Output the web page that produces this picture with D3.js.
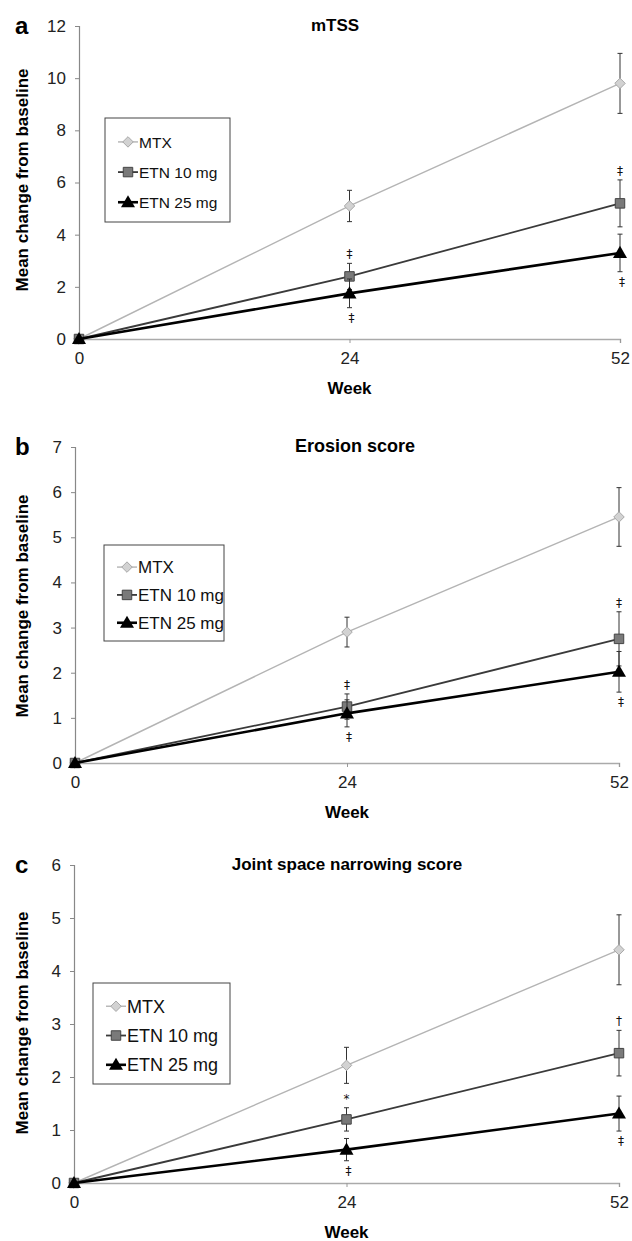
<!DOCTYPE html>
<html>
<head>
  <meta charset="UTF-8">
  <title>Radiographic progression by treatment group</title>
  <script src="https://d3js.org/d3.v7.min.js"></script>
  <style>
    body { margin: 0; background: #fff; }
    svg text { font-family: "Liberation Sans", Arial, sans-serif; }
  </style>
</head>
<body>
<div id="chart"></div>
<script>
// ---- data ----
const weeks = ["0", "24", "52"];
const groups = ["MTX", "ETN 10 mg", "ETN 25 mg"];

// panel a: mTSS  (rows: MTX, ETN 10 mg, ETN 25 mg)
const mtssMeans  = [[0, 5.1, 9.8], [0, 2.4, 5.2], [0, 1.75, 3.3]];
const mtssErrors = [[0, 0.6, 1.15], [0, 0.5, 0.9], [0, 0.55, 0.72]];
const mtssMarks  = [["", "", ""], ["", "‡", "‡"], ["", "‡", "‡"]];

// panel b: erosion score
const erosionMeans  = [[0, 2.9, 5.45], [0, 1.25, 2.75], [0, 1.1, 2.02]];
const erosionErrors = [[0, 0.33, 0.65], [0, 0.28, 0.6], [0, 0.3, 0.45]];
const erosionMarks  = [["", "", ""], ["", "‡", "‡"], ["", "‡", "‡"]];

// panel c: joint space narrowing score
const jsnMeans  = [[0, 2.22, 4.4], [0, 1.2, 2.45], [0, 0.63, 1.31]];
const jsnErrors = [[0, 0.34, 0.66], [0, 0.22, 0.43], [0, 0.21, 0.33]];
const jsnMarks  = [["", "", ""], ["", "*", "†"], ["", "‡", "‡"]];

// ---- layout ----
const W = 632, H = 1241;
const panels = [
  { letter: "a", title: "mTSS", yMax: 12, yStep: 2,
    means: mtssMeans, errs: mtssErrors, marks: mtssMarks,
    x0: 79, x1: 620, yTop: 26, yBot: 339, titleX: 335, titleSize: 17,
    labelY: 180, legend: { x: 105, y: 118, w: 125, h: 104, fs: 15.5 } },
  { letter: "b", title: "Erosion score", yMax: 7, yStep: 1,
    means: erosionMeans, errs: erosionErrors, marks: erosionMarks,
    x0: 75, x1: 619, yTop: 447, yBot: 763, titleX: 355, titleSize: 18,
    labelY: 606, legend: { x: 104, y: 545, w: 120, h: 96, fs: 17 } },
  { letter: "c", title: "Joint space narrowing score", yMax: 6, yStep: 1,
    means: jsnMeans, errs: jsnErrors, marks: jsnMarks,
    x0: 74, x1: 619, yTop: 865, yBot: 1183, titleX: 347, titleSize: 17,
    labelY: 1023, legend: { x: 93, y: 983, w: 137, h: 101, fs: 18 } }
];

const lineColor = ["#b4b4b4", "#3a3a3a", "#000"];
const lineWidth = [1.4, 1.8, 2.6];

const svg = d3.select("#chart").append("svg")
  .attr("width", W).attr("height", H);

function marker(g, i, cx, cy) {
  if (i === 0) {
    g.append("path")
      .attr("d", d3.symbol().type(d3.symbolDiamond2).size(70)())
      .attr("transform", `translate(${cx},${cy})`)
      .attr("fill", "#d2d2d2").attr("stroke", "#a8a8a8").attr("stroke-width", 1);
  } else if (i === 1) {
    g.append("path")
      .attr("d", d3.symbol().type(d3.symbolSquare).size(90)())
      .attr("transform", `translate(${cx},${cy})`)
      .attr("fill", "#7a7a7a").attr("stroke", "#444").attr("stroke-width", 1);
  } else {
    g.append("path")
      .attr("d", d3.symbol().type(d3.symbolTriangle).size(85)())
      .attr("transform", `translate(${cx},${cy + 1})`)
      .attr("fill", "#000");
  }
}

panels.forEach(p => {
  const g = svg.append("g");
  const x = d3.scalePoint().domain(weeks).range([p.x0, p.x1]);
  const y = d3.scaleLinear().domain([0, p.yMax]).range([p.yBot, p.yTop]);

  // y axis
  const yAxis = d3.axisLeft(y).tickValues(d3.range(0, p.yMax + 0.001, p.yStep))
    .tickFormat(d3.format("d")).tickSize(4).tickPadding(9);
  const ya = g.append("g").attr("transform", `translate(${p.x0},0)`).call(yAxis);
  ya.select(".domain").attr("stroke", "#888").attr("stroke-width", 1.2);
  ya.selectAll(".tick line").attr("stroke", "#888");
  ya.selectAll(".tick text").attr("font-size", 17).attr("fill", "#222");

  // x axis
  const xAxis = d3.axisBottom(x).tickSize(4).tickPadding(9);
  const xa = g.append("g").attr("transform", `translate(0,${p.yBot})`).call(xAxis);
  xa.select(".domain").attr("stroke", "#aaa").attr("stroke-width", 1.4);
  xa.selectAll(".tick line").attr("stroke", "#999");
  xa.selectAll(".tick text").attr("font-size", 17).attr("fill", "#222");

  // titles and labels
  g.append("text").attr("x", p.titleX).attr("y", p.yTop + 5)
    .attr("text-anchor", "middle").attr("font-weight", "bold")
    .attr("font-size", p.titleSize).text(p.title);
  g.append("text").attr("x", 15).attr("y", p.yTop + 8)
    .attr("font-weight", "bold").attr("font-size", 24).text(p.letter);
  g.append("text").attr("transform", `translate(28,${p.labelY}) rotate(-90)`)
    .attr("text-anchor", "middle").attr("font-weight", "bold")
    .attr("font-size", 17).text("Mean change from baseline");
  g.append("text").attr("x", (p.x0 + p.x1) / 2).attr("y", p.yBot + 55)
    .attr("text-anchor", "middle").attr("font-weight", "bold")
    .attr("font-size", 17).text("Week");

  // series
  groups.forEach((name, i) => {
    const pts = weeks.map((w, k) => ({ w, v: p.means[i][k], e: p.errs[i][k], m: p.marks[i][k] }));
    g.append("path").datum(pts)
      .attr("fill", "none").attr("stroke", lineColor[i]).attr("stroke-width", lineWidth[i])
      .attr("d", d3.line().x(d => x(d.w)).y(d => y(d.v)));

    pts.filter(d => d.e > 0).forEach(d => {
      const cx = x(d.w);
      g.append("line").attr("x1", cx).attr("x2", cx)
        .attr("y1", y(d.v + d.e)).attr("y2", y(d.v - d.e))
        .attr("stroke", "#333").attr("stroke-width", 1);
      [d.v + d.e, d.v - d.e].forEach(v => {
        g.append("line").attr("x1", cx - 2.5).attr("x2", cx + 2.5)
          .attr("y1", y(v)).attr("y2", y(v)).attr("stroke", "#333").attr("stroke-width", 1);
      });
    });

    pts.forEach(d => marker(g, i, x(d.w), y(d.v)));

    // significance symbols: above ETN 10 mg bars, below ETN 25 mg bars
    pts.filter(d => d.m).forEach(d => {
      const above = i === 1;
      const yy = above ? y(d.v + d.e) - 5 : y(d.v - d.e) + 14;
      g.append("text").attr("x", x(d.w) + (above ? 0 : 2)).attr("y", yy)
        .attr("text-anchor", "middle").attr("font-size", 12)
        .style("font-family", "'DejaVu Sans', sans-serif").attr("fill", "#111")
        .text(d.m);
    });
  });

  // legend
  const L = p.legend;
  const lg = g.append("g");
  lg.append("rect").attr("x", L.x).attr("y", L.y).attr("width", L.w).attr("height", L.h)
    .attr("fill", "#fff").attr("stroke", "#444").attr("stroke-width", 1);
  groups.forEach((name, i) => {
    const ry = L.y + L.h * (0.23 + 0.29 * i);
    lg.append("line").attr("x1", L.x + 13).attr("x2", L.x + 33)
      .attr("y1", ry).attr("y2", ry)
      .attr("stroke", lineColor[i]).attr("stroke-width", lineWidth[i]);
    marker(lg, i, L.x + 23, ry);
    lg.append("text").attr("x", L.x + 34).attr("y", ry + L.fs * 0.36)
      .attr("font-size", L.fs).attr("fill", "#111").text(name);
  });
});
</script>
</body>
</html>
